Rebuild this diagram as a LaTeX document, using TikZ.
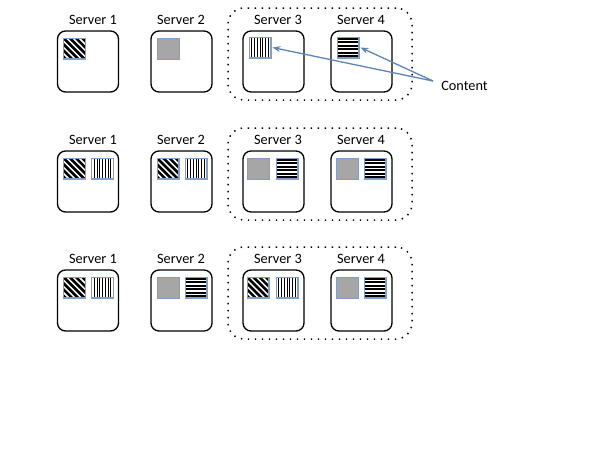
\documentclass[tikz,border=0pt]{standalone}
\usepackage{fontspec}
\setmainfont{Carlito}
\usetikzlibrary{arrows.meta}
\definecolor{sqborder}{HTML}{7F9FC8}
\definecolor{arrowblue}{HTML}{5B85BA}
\definecolor{grayfill}{HTML}{A6A6A6}
\tikzset{
 server/.style={draw, line width=1.3pt, rounded corners=8pt, minimum width=61pt, minimum height=61pt, inner sep=0pt},
 grp/.style={draw, line width=1.5pt, dash pattern=on 1.4pt off 5.6pt, rounded corners=16pt, minimum width=184pt, minimum height=92pt, inner sep=0pt},
 lbl/.style={font=\fontsize{14.3}{16}\selectfont, inner sep=0pt},
 sq/.style={draw=sqborder, line width=0.8pt, minimum width=22pt, minimum height=21pt, inner sep=0pt},
 sqedge/.style={draw=sqborder, line width=1.4pt},
 diagsq/.style={sq, path picture={\foreach \k in {-5,...,5}{\draw[black, line width=2.6pt] ([xshift=\k*6.2pt]path picture bounding box.north west) -- ++(24pt,-24pt);}
   \draw[sqedge] (path picture bounding box.south west) rectangle (path picture bounding box.north east);}},
 vertsq/.style={sq, path picture={\foreach \k in {1,...,7}{\draw[black, line width=1pt] ([xshift=\k*2.75pt]path picture bounding box.north west) -- ++(0pt,-22pt);}
   \draw[sqedge] (path picture bounding box.south west) rectangle (path picture bounding box.north east);}},
 horizsq/.style={sq, path picture={\foreach \k in {0,...,5}{\draw[black, line width=2pt] ([yshift=-1.9pt-\k*3.45pt]path picture bounding box.north west) -- ++(23pt,0pt);}
   \draw[sqedge] (path picture bounding box.south west) rectangle (path picture bounding box.north east);}},
 graysq/.style={sq, fill=grayfill},
 arr/.style={draw=arrowblue, line width=1.3pt, -{Stealth[length=8pt,width=6pt]}}
}
\begin{document}
\begin{tikzpicture}[x=1pt,y=-1pt]
\useasboundingbox (0,0) rectangle (600,450);
% row frames
\foreach \r/\T in {1/31,2/151,3/270}{
  \node[grp] (g\r) at (320,\T+23) {};
  \node[server] (r\r s1) at (88,\T+30.5) {};
  \node[server] (r\r s2) at (181.5,\T+30.5) {};
  \node[server] (r\r s3) at (273.5,\T+30.5) {};
  \node[server] (r\r s4) at (361.5,\T+30.5) {};
  \node[lbl] (r\r l1) at (93,\T-11) {Server 1};
  \node[lbl] (r\r l2) at (181,\T-11) {Server 2};
  \node[lbl] (r\r l3) at (278,\T-11) {Server 3};
  \node[lbl] (r\r l4) at (361,\T-11) {Server 4};
}
% row 1 contents
\node[diagsq] (r1s1a) at (74.5,48.5) {};
\node[graysq] (r1s2a) at (168,48.5) {};
\node[vertsq] (r1s3a) at (260,47.5) {};
\node[horizsq] (r1s4a) at (348,47.5) {};
% row 2 contents
\node[diagsq] (r2s1a) at (74.5,168.5) {};
\node[vertsq] (r2s1b) at (102.5,168.5) {};
\node[diagsq] (r2s2a) at (168,168.5) {};
\node[vertsq] (r2s2b) at (196,168.5) {};
\node[graysq] (r2s3a) at (258,168.5) {};
\node[horizsq] (r2s3b) at (287,168.5) {};
\node[graysq] (r2s4a) at (347,168.5) {};
\node[horizsq] (r2s4b) at (375,168.5) {};
% row 3 contents
\node[diagsq] (r3s1a) at (74.5,287.5) {};
\node[vertsq] (r3s1b) at (102.5,287.5) {};
\node[graysq] (r3s2a) at (168,287.5) {};
\node[horizsq] (r3s2b) at (196,287.5) {};
\node[diagsq] (r3s3a) at (258,287.5) {};
\node[vertsq] (r3s3b) at (287,287.5) {};
\node[graysq] (r3s4a) at (347,287.5) {};
\node[horizsq] (r3s4b) at (375,287.5) {};
% content label and arrows
\node[lbl] (content) at (464.5,86) {Content};
\coordinate (cstart) at (433,81);
\draw[arr] (cstart) -- ([xshift=1pt]r1s3a.east);
\draw[arr] (cstart) -- ([xshift=1pt]r1s4a.east);
\end{tikzpicture}
\end{document}
